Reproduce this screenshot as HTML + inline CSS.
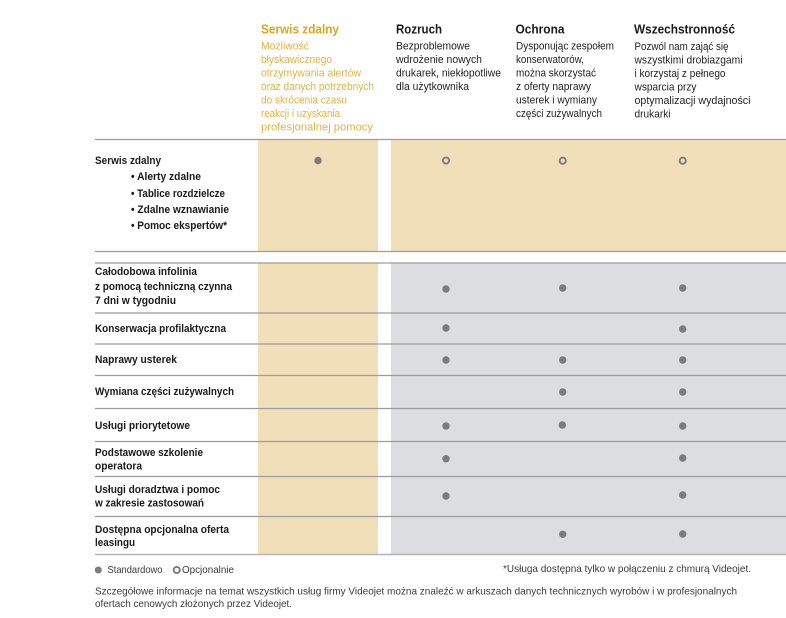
<!DOCTYPE html>
<html>
<head>
<meta charset="utf-8">
<style>
html,body{margin:0;padding:0;background:#fff;}
svg{display:block;}
text{font-family:"Liberation Sans",Arial,sans-serif;}
.t{font-weight:bold;font-size:13px;fill:#1a1a1a;}
.tg{font-weight:bold;font-size:13px;fill:#E0A321;}
.d{font-size:11px;fill:#1f1f1f;}
.dg{font-size:11px;fill:#E5B145;}
.l{font-weight:bold;font-size:11px;fill:#1a1a1a;}
.f{font-size:10.5px;fill:#3a3a3a;}
</style>
</head>
<body>
<svg width="786" height="618" viewBox="0 0 786 618" xmlns="http://www.w3.org/2000/svg">
<!-- backgrounds -->
<rect x="258" y="140" width="120" height="111" fill="#F1DFB9"/>
<rect x="391" y="140" width="395" height="111" fill="#F1DFB9"/>
<rect x="258" y="263" width="120" height="291" fill="#F1DFB9"/>
<rect x="391" y="263" width="395" height="291" fill="#DCDDDF"/>

<!-- lines -->
<g stroke="#9c9c9c" stroke-width="1.3">
<line x1="95" y1="139.5" x2="786" y2="139.5"/>
<line x1="95" y1="251.5" x2="786" y2="251.5"/>
<line x1="95" y1="263" x2="786" y2="263"/>
<line x1="95" y1="313" x2="786" y2="313"/>
<line x1="95" y1="344" x2="786" y2="344"/>
<line x1="95" y1="375.5" x2="786" y2="375.5"/>
<line x1="95" y1="408.5" x2="786" y2="408.5"/>
<line x1="95" y1="441.5" x2="786" y2="441.5"/>
<line x1="95" y1="476.5" x2="786" y2="476.5"/>
<line x1="95" y1="516.5" x2="786" y2="516.5"/>
</g>
<line x1="95" y1="554.5" x2="786" y2="554.5" stroke="#b5b5b5" stroke-width="1.6"/>

<!-- headers -->
<text class="tg" x="261" y="33.5" textLength="78" lengthAdjust="spacingAndGlyphs">Serwis zdalny</text>
<text class="t" x="396" y="33.5" textLength="46" lengthAdjust="spacingAndGlyphs">Rozruch</text>
<text class="t" x="515.5" y="33.5" textLength="49" lengthAdjust="spacingAndGlyphs">Ochrona</text>
<text class="t" x="634" y="33.5" textLength="101" lengthAdjust="spacingAndGlyphs">Wszechstronność</text>

<text class="dg" x="261" y="49.5" textLength="48" lengthAdjust="spacingAndGlyphs">Możliwość</text>
<text class="dg" x="261" y="63" textLength="71" lengthAdjust="spacingAndGlyphs">błyskawicznego</text>
<text class="dg" x="261" y="76.5" textLength="100" lengthAdjust="spacingAndGlyphs">otrzymywania alertów</text>
<text class="dg" x="261" y="90" textLength="113" lengthAdjust="spacingAndGlyphs">oraz danych potrzebnych</text>
<text class="dg" x="261" y="103.5" textLength="86" lengthAdjust="spacingAndGlyphs">do skrócenia czasu</text>
<text class="dg" x="261" y="117" textLength="79" lengthAdjust="spacingAndGlyphs">reakcji i uzyskania</text>
<text class="dg" x="261" y="130.5" textLength="112" lengthAdjust="spacingAndGlyphs">profesjonalnej pomocy</text>

<text class="d" x="396" y="49.5" textLength="74" lengthAdjust="spacingAndGlyphs">Bezproblemowe</text>
<text class="d" x="396" y="63" textLength="86" lengthAdjust="spacingAndGlyphs">wdrożenie nowych</text>
<text class="d" x="396" y="76.5" textLength="105" lengthAdjust="spacingAndGlyphs">drukarek, niekłopotliwe</text>
<text class="d" x="396" y="90" textLength="73" lengthAdjust="spacingAndGlyphs">dla użytkownika</text>

<text class="d" x="516" y="49.5" textLength="98" lengthAdjust="spacingAndGlyphs">Dysponując zespołem</text>
<text class="d" x="516" y="63" textLength="68" lengthAdjust="spacingAndGlyphs">konserwatorów,</text>
<text class="d" x="516" y="76.5" textLength="80" lengthAdjust="spacingAndGlyphs">można skorzystać</text>
<text class="d" x="516" y="90" textLength="75" lengthAdjust="spacingAndGlyphs">z oferty naprawy</text>
<text class="d" x="516" y="103.5" textLength="81" lengthAdjust="spacingAndGlyphs">usterek i wymiany</text>
<text class="d" x="516" y="117" textLength="86" lengthAdjust="spacingAndGlyphs">części zużywalnych</text>

<text class="d" x="634.5" y="50" textLength="94" lengthAdjust="spacingAndGlyphs">Pozwól nam zająć się</text>
<text class="d" x="634.5" y="63.5" textLength="108" lengthAdjust="spacingAndGlyphs">wszystkimi drobiazgami</text>
<text class="d" x="634.5" y="77" textLength="91" lengthAdjust="spacingAndGlyphs">i korzystaj z pełnego</text>
<text class="d" x="634.5" y="90.5" textLength="62" lengthAdjust="spacingAndGlyphs">wsparcia przy</text>
<text class="d" x="634.5" y="104" textLength="116" lengthAdjust="spacingAndGlyphs">optymalizacji wydajności</text>
<text class="d" x="634.5" y="117.5" textLength="36" lengthAdjust="spacingAndGlyphs">drukarki</text>

<!-- row labels -->
<text class="l" x="95" y="164" textLength="66" lengthAdjust="spacingAndGlyphs">Serwis zdalny</text>
<text class="l" x="131" y="180" textLength="70" lengthAdjust="spacingAndGlyphs">• Alerty zdalne</text>
<text class="l" x="131" y="197" textLength="94" lengthAdjust="spacingAndGlyphs">• Tablice rozdzielcze</text>
<text class="l" x="131" y="213" textLength="98" lengthAdjust="spacingAndGlyphs">• Zdalne wznawianie</text>
<text class="l" x="131" y="229" textLength="96" lengthAdjust="spacingAndGlyphs">• Pomoc ekspertów*</text>

<text class="l" x="95" y="275" textLength="102" lengthAdjust="spacingAndGlyphs">Całodobowa infolinia</text>
<text class="l" x="95" y="290" textLength="137" lengthAdjust="spacingAndGlyphs">z pomocą techniczną czynna</text>
<text class="l" x="95" y="304" textLength="81" lengthAdjust="spacingAndGlyphs">7 dni w tygodniu</text>
<text class="l" x="95" y="332" textLength="131" lengthAdjust="spacingAndGlyphs">Konserwacja profilaktyczna</text>
<text class="l" x="95" y="363" textLength="82" lengthAdjust="spacingAndGlyphs">Naprawy usterek</text>
<text class="l" x="95" y="395" textLength="139" lengthAdjust="spacingAndGlyphs">Wymiana części zużywalnych</text>
<text class="l" x="95" y="429" textLength="95" lengthAdjust="spacingAndGlyphs">Usługi priorytetowe</text>
<text class="l" x="95" y="456" textLength="108" lengthAdjust="spacingAndGlyphs">Podstawowe szkolenie</text>
<text class="l" x="95" y="469.5" textLength="47" lengthAdjust="spacingAndGlyphs">operatora</text>
<text class="l" x="95" y="493" textLength="125" lengthAdjust="spacingAndGlyphs">Usługi doradztwa i pomoc</text>
<text class="l" x="95" y="506.5" textLength="109" lengthAdjust="spacingAndGlyphs">w zakresie zastosowań</text>
<text class="l" x="95" y="533" textLength="134" lengthAdjust="spacingAndGlyphs">Dostępna opcjonalna oferta</text>
<text class="l" x="95" y="546" textLength="40" lengthAdjust="spacingAndGlyphs">leasingu</text>

<!-- dots -->
<g fill="#7b7b80">
<circle cx="318" cy="160.5" r="3.7"/>
<circle cx="446" cy="289" r="3.7"/><circle cx="562.7" cy="288" r="3.7"/><circle cx="682.7" cy="288" r="3.7"/>
<circle cx="446" cy="328" r="3.7"/><circle cx="682.7" cy="329" r="3.7"/>
<circle cx="446" cy="360" r="3.7"/><circle cx="562.7" cy="360" r="3.7"/><circle cx="682.7" cy="360" r="3.7"/>
<circle cx="562.7" cy="392" r="3.7"/><circle cx="682.7" cy="392" r="3.7"/>
<circle cx="446" cy="426" r="3.7"/><circle cx="562.3" cy="425" r="3.7"/><circle cx="682.7" cy="426" r="3.7"/>
<circle cx="446" cy="458.7" r="3.7"/><circle cx="682.7" cy="458" r="3.7"/>
<circle cx="446" cy="496" r="3.7"/><circle cx="682.7" cy="495" r="3.7"/>
<circle cx="562.7" cy="534.3" r="3.7"/><circle cx="682.7" cy="534" r="3.7"/>
<circle cx="98.3" cy="570" r="3.5"/>
</g>
<g fill="none" stroke="#7b7b80" stroke-width="1.9">
<circle cx="446" cy="160.5" r="3.1"/>
<circle cx="562.7" cy="160.7" r="3.1"/>
<circle cx="682.7" cy="160.7" r="3.1"/>
<circle cx="176.7" cy="570" r="3.1"/>
</g>

<!-- legend & footer -->
<text class="f" x="107.5" y="573" textLength="55" lengthAdjust="spacingAndGlyphs">Standardowo</text>
<text class="f" x="182" y="573" textLength="52" lengthAdjust="spacingAndGlyphs">Opcjonalnie</text>
<text class="f" x="503" y="572" textLength="248" lengthAdjust="spacingAndGlyphs">*Usługa dostępna tylko w połączeniu z chmurą Videojet.</text>
<text class="f" x="95" y="594.5" textLength="642" lengthAdjust="spacingAndGlyphs">Szczegółowe informacje na temat wszystkich usług firmy Videojet można znaleźć w arkuszach danych technicznych wyrobów i w profesjonalnych</text>
<text class="f" x="95" y="607" textLength="197" lengthAdjust="spacingAndGlyphs">ofertach cenowych złożonych przez Videojet.</text>
</svg>
</body>
</html>
